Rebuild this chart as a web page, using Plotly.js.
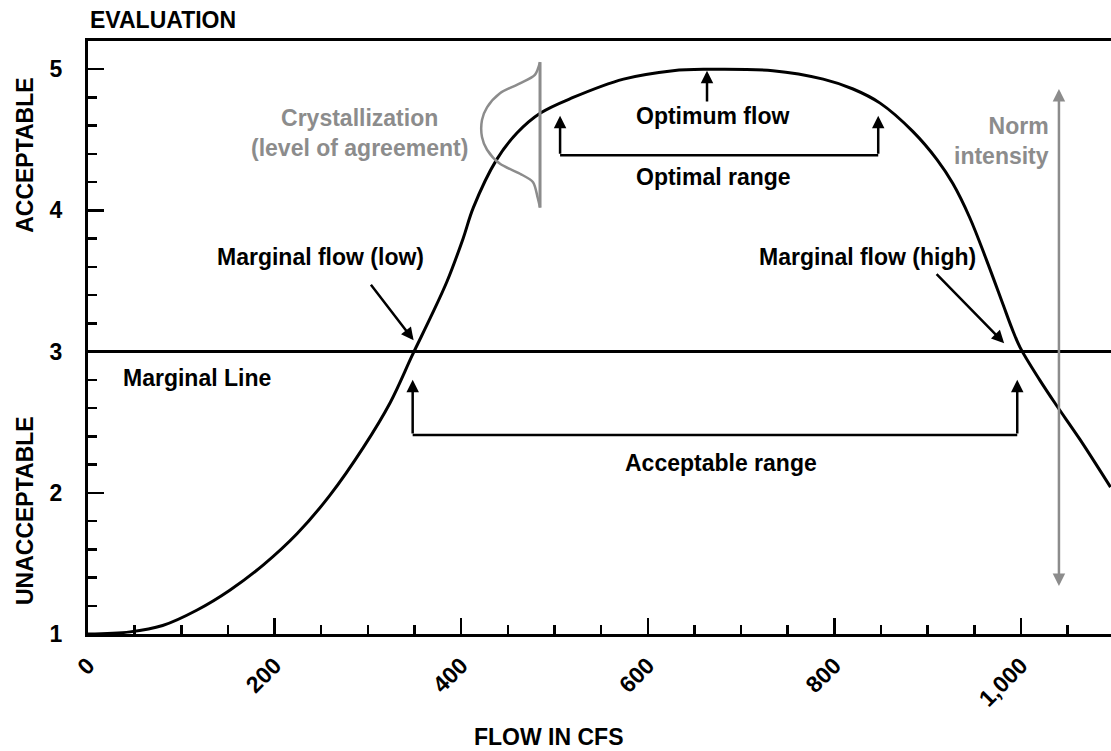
<!DOCTYPE html>
<html><head><meta charset="utf-8">
<script src="https://cdn.plot.ly/plotly-3.0.1.min.js"></script>
<style>html,body{margin:0;padding:0;background:#fff}</style>
</head><body>
<div id="chart" style="width:1111px;height:751px"></div>
<script>
// Flow (cfs) vs evaluation curve
const flow = [0, 45, 80, 117, 152, 188, 224, 259, 295, 324, 348, 367, 385, 402, 413, 438, 460, 485, 520, 574, 627, 663, 734, 788, 820, 849, 884, 910, 927, 945, 963, 981, 990, 999, 1020, 1038, 1063, 1096];
const evaluation = [1.0, 1.015, 1.06, 1.17, 1.31, 1.49, 1.71, 1.98, 2.32, 2.64, 2.98, 3.24, 3.5, 3.8, 4.02, 4.36, 4.55, 4.69, 4.80, 4.93, 4.99, 5.0, 4.99, 4.93, 4.86, 4.76, 4.56, 4.36, 4.19, 3.95, 3.65, 3.33, 3.17, 3.03, 2.80, 2.62, 2.38, 2.04];
// Crystallization (level of agreement) outline
const crystFlow = [484.5, 479, 463, 441.6, 427.7, 422.3, 422.3, 427.7, 441.6, 463, 477, 482, 484.5];
const crystEval = [5.05, 4.96, 4.90, 4.83, 4.73, 4.64, 4.52, 4.43, 4.33, 4.26, 4.20, 4.09, 4.02];
const crystAxisFlow = [484.5, 484.5];
const crystAxisEval = [4.02, 5.05];
// Reference values
const marginalLine = 3;
const marginalLow = 348, marginalHigh = 996;
const optimalLow = 506, optimalHigh = 847;
const optimumFlow = 663.5;
const normFlow = 1040.7, normLow = 1.33, normHigh = 4.86;
const xTicks = [0, 200, 400, 600, 800, 1000];
const yTicks = [1, 2, 3, 4, 5];

const BLACK = '#000000', GRAY = '#8c8c8c';
const FONT = 'Liberation Sans, Arial, Helvetica, sans-serif';
const FS = 23;

const traces = [
  {x: flow, y: evaluation, mode: 'lines', line: {color: BLACK, width: 3, shape: 'spline', smoothing: 1}, hoverinfo: 'skip'},
  {x: crystFlow, y: crystEval, mode: 'lines', line: {color: GRAY, width: 2.5, shape: 'spline', smoothing: 0.8}, hoverinfo: 'skip'},
  {x: crystAxisFlow, y: crystAxisEval, mode: 'lines', line: {color: GRAY, width: 3}, hoverinfo: 'skip'}
];

function txt(x, y, text, opts) {
  return Object.assign({x: x, y: y, xref: 'x', yref: 'y', text: text, showarrow: false, xanchor: 'center', yanchor: 'middle',
    font: {family: FONT, size: FS, color: BLACK, weight: 700}}, opts || {});
}
function arrow(x, y, ax, ay, color, extra) {
  return Object.assign({x: x, y: y, ax: ax, ay: ay, xref: 'x', yref: 'y', axref: 'x', ayref: 'y',
    text: '', showarrow: true, arrowhead: 2, arrowsize: 1, arrowwidth: 2.5, arrowcolor: color || BLACK, standoff: 0}, extra || {});
}

const accTop = 2.80, accBot = 2.41;
const optTop = 4.67, optBot = 4.39;

const annotations = [
  // titles
  {x: 0, y: 1.035, xref: 'paper', yref: 'paper', xanchor: 'left', yanchor: 'middle', text: 'EVALUATION', showarrow: false,
   font: {family: FONT, size: FS, color: BLACK, weight: 700}},
  {x: -0.0616, y: 0.808, xref: 'paper', yref: 'paper', xanchor: 'center', yanchor: 'middle', textangle: -90, text: 'ACCEPTABLE', showarrow: false,
   font: {family: FONT, size: FS, color: BLACK, weight: 700}},
  {x: -0.0616, y: 0.209, xref: 'paper', yref: 'paper', xanchor: 'center', yanchor: 'middle', textangle: -90, text: 'UNACCEPTABLE', showarrow: false,
   font: {family: FONT, size: FS, color: BLACK, weight: 700}},
  {x: 0.4497, y: -0.174, xref: 'paper', yref: 'paper', xanchor: 'center', yanchor: 'middle', text: 'FLOW IN CFS', showarrow: false,
   font: {family: FONT, size: FS, color: BLACK, weight: 700}},
  // labels
  txt(35.4, 2.81, 'Marginal Line', {xanchor: 'left'}),
  txt(249.7, 3.67, 'Marginal flow (low)'),
  txt(835, 3.67, 'Marginal flow (high)'),
  txt(678.5, 2.21, 'Acceptable range'),
  txt(670, 4.235, 'Optimal range'),
  txt(669, 4.67, 'Optimum flow'),
  txt(290.5, 4.545, 'Crystallization<br>(level of agreement)', {font: {family: FONT, size: FS, color: GRAY, weight: 700}}),
  txt(1032, 4.49, 'Norm<br>intensity', {xanchor: 'right', align: 'right', font: {family: FONT, size: FS, color: GRAY, weight: 700}}),
  // arrows
  arrow(349, 3.08, 302, 3.485),
  arrow(982, 3.06, 908, 3.56),
  arrow(marginalLow, accTop, marginalLow, accBot),
  arrow(marginalHigh, accTop, marginalHigh, accBot),
  arrow(optimalLow, optTop, optimalLow, optBot),
  arrow(optimalHigh, optTop, optimalHigh, optBot),
  arrow(optimumFlow, 4.99, optimumFlow, 4.76),
  arrow(normFlow, normHigh, normFlow, normLow, GRAY, {arrowside: 'end+start'})
];

const shapes = [
  {type: 'line', xref: 'paper', yref: 'y', x0: 0, x1: 1, y0: marginalLine, y1: marginalLine, line: {color: BLACK, width: 3}},
  {type: 'line', xref: 'x', yref: 'y', x0: marginalLow, x1: marginalHigh, y0: accBot, y1: accBot, line: {color: BLACK, width: 2.5}},
  {type: 'line', xref: 'x', yref: 'y', x0: optimalLow, x1: optimalHigh, y0: optBot, y1: optBot, line: {color: BLACK, width: 2.5}}
];

const layout = {
  width: 1111, height: 751,
  margin: {l: 88, r: 0, t: 41, b: 117},
  paper_bgcolor: '#fff', plot_bgcolor: '#fff',
  showlegend: false,
  font: {family: FONT, color: BLACK},
  xaxis: {
    range: [0, 1096.5], showgrid: false, zeroline: false,
    showline: true, linecolor: BLACK, linewidth: 3, mirror: true,
    tickvals: xTicks, ticktext: xTicks.map(v => v.toLocaleString('en-US')),
    ticks: 'inside', ticklen: 16, tickwidth: 2.5, tickcolor: BLACK,
    tickangle: -45, ticklabelstandoff: 6,
    tickfont: {family: FONT, size: FS, color: BLACK, weight: 700},
    minor: {dtick: 50, ticks: 'inside', ticklen: 9, tickwidth: 2.5, tickcolor: BLACK, showgrid: false}
  },
  yaxis: {
    range: [1, 5.2], showgrid: false, zeroline: false,
    showline: true, linecolor: BLACK, linewidth: 3,
    tickvals: yTicks, ticks: 'inside', ticklen: 16, tickwidth: 2.5, tickcolor: BLACK,
    ticklabelstandoff: 18,
    tickfont: {family: FONT, size: FS, color: BLACK, weight: 700},
    minor: {dtick: 0.2, ticks: 'inside', ticklen: 9, tickwidth: 2.5, tickcolor: BLACK, showgrid: false}
  },
  annotations: annotations,
  shapes: shapes
};

Plotly.newPlot('chart', traces, layout, {displayModeBar: false, staticPlot: true});
</script>
</body></html>
